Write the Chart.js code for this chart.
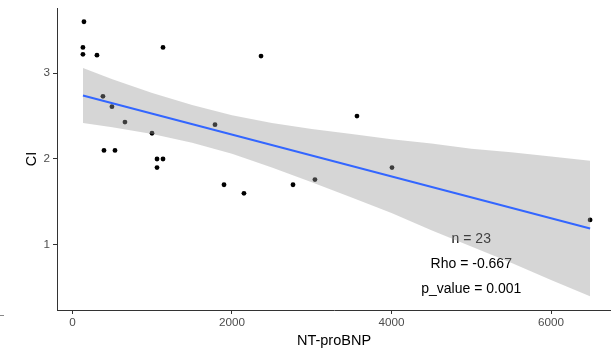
<!DOCTYPE html>
<html>
<head>
<meta charset="utf-8">
<script src="https://cdn.jsdelivr.net/npm/chart.js@4"></script>
<style>
	html, body { margin: 0; padding: 0; background: #fff; }
	#wrap { width: 611px; height: 350px; }
</style>
</head>
<body>
<div id="wrap"><canvas id="scatterChart"></canvas></div>
<script>
// NT-proBNP (x) vs CI (y)
const ntProBNP = [144, 131, 131, 307, 1135, 2364, 382, 495, 658, 997, 395, 533, 1060, 1135, 1060, 1787, 3567, 4006, 1900, 2150, 2765, 3040, 6490];
const ciValues = [3.60, 3.30, 3.22, 3.21, 3.30, 3.20, 2.73, 2.61, 2.43, 2.30, 2.10, 2.10, 2.00, 2.00, 1.90, 2.40, 2.50, 1.90, 1.70, 1.60, 1.70, 1.76, 1.29];

// fitted line and its confidence band
const fitX = [131, 6490];
const fitY = [2.74, 1.19];
const bandX = [131, 500, 1000, 1500, 2000, 2500, 3000, 3500, 4000, 4500, 5000, 5500, 6000, 6490];
const bandUpper = [3.06, 2.93, 2.77, 2.63, 2.51, 2.42, 2.35, 2.29, 2.23, 2.18, 2.12, 2.08, 2.03, 1.98];
const bandLower = [2.42, 2.37, 2.29, 2.19, 2.06, 1.90, 1.73, 1.55, 1.37, 1.17, 0.98, 0.79, 0.59, 0.40];

const xTicks = [0, 2000, 4000, 6000];
const yTicks = [1, 2, 3];

const statLabels = ['n = 23', 'Rho = -0.667', 'p_value = 0.001'];
const statX = [5000, 5000, 5000];
const statY = [1.07, 0.78, 0.48];

const zip = (xs, ys) => xs.map((x, i) => ({ x, y: ys[i] }));

const statText = {
	id: 'statText',
	beforeDatasetsDraw(chart) {
		const { ctx, scales: { x, y } } = chart;
		ctx.save();
		ctx.font = '14px "Liberation Sans", Arial, sans-serif';
		ctx.fillStyle = '#000';
		ctx.textAlign = 'center';
		ctx.textBaseline = 'middle';
		statLabels.forEach((t, i) => {
			ctx.fillText(t, x.getPixelForValue(statX[i]), y.getPixelForValue(statY[i]));
		});
		// little stray dash at the bottom left corner of the original
		ctx.strokeStyle = '#888';
		ctx.lineWidth = 1;
		ctx.beginPath();
		ctx.moveTo(0, 315.5);
		ctx.lineTo(4, 315.5);
		ctx.stroke();
		ctx.restore();
	},
};

const axisFont = { family: '"Liberation Sans", Arial, sans-serif', size: 11.7 };
const titleFont = { family: '"Liberation Sans", Arial, sans-serif', size: 14.5 };

new Chart(document.querySelector('#scatterChart'), {
	type: 'scatter',
	data: {
		datasets: [
			{
				data: zip(ntProBNP, ciValues),
				backgroundColor: '#000',
				borderWidth: 0,
				pointRadius: 2.4,
				pointHoverRadius: 0,
				order: 3,
			},
			{
				data: zip(bandX, bandLower),
				showLine: true,
				borderWidth: 0,
				pointRadius: 0,
				pointHoverRadius: 0,
				fill: false,
				order: 2,
			},
			{
				data: zip(bandX, bandUpper),
				showLine: true,
				borderWidth: 0,
				pointRadius: 0,
				pointHoverRadius: 0,
				fill: 1,
				backgroundColor: 'rgba(153, 153, 153, 0.4)',
				order: 2,
			},
			{
				data: zip(fitX, fitY),
				showLine: true,
				borderColor: '#3366FF',
				borderWidth: 2,
				pointRadius: 0,
				pointHoverRadius: 0,
				order: 1,
			},
		],
	},
	options: {
		responsive: true,
		maintainAspectRatio: false,
		animation: false,
		events: [],
		layout: { autoPadding: false, padding: { top: 8, right: 0, left: 0, bottom: 0 } },
		plugins: {
			legend: { display: false },
			tooltip: { enabled: false },
		},
		scales: {
			x: {
				min: -194,
				max: 6752,
				afterBuildTicks: scale => { scale.ticks = xTicks.map(v => ({ value: v })); },
				afterFit: scale => {
					scale.height = 40;
					scale.paddingLeft = 0;
					scale.paddingRight = 0;
				},
				grid: { drawOnChartArea: false, color: '#333', tickLength: 4, tickWidth: 1 },
				border: { display: true, color: '#333', width: 1 },
				ticks: { color: '#4d4d4d', font: axisFont, padding: 2, maxRotation: 0, callback: v => String(v) },
				title: { display: true, text: 'NT-proBNP', color: '#000', font: titleFont, padding: { top: 0, bottom: 0 } },
			},
			y: {
				min: 0.24,
				max: 3.76,
				afterBuildTicks: scale => { scale.ticks = yTicks.map(v => ({ value: v })); },
				afterFit: scale => {
					scale.width = 57;
					scale.paddingTop = 0;
					scale.paddingBottom = 0;
				},
				grid: { drawOnChartArea: false, color: '#333', tickLength: 4, tickWidth: 1 },
				border: { display: true, color: '#333', width: 1 },
				ticks: { color: '#4d4d4d', font: axisFont, padding: 3, callback: v => String(v) },
				title: { display: true, text: 'CI', color: '#000', font: titleFont, padding: { top: 23, bottom: 0 } },
			},
		},
	},
	plugins: [statText],
});
</script>
</body>
</html>
